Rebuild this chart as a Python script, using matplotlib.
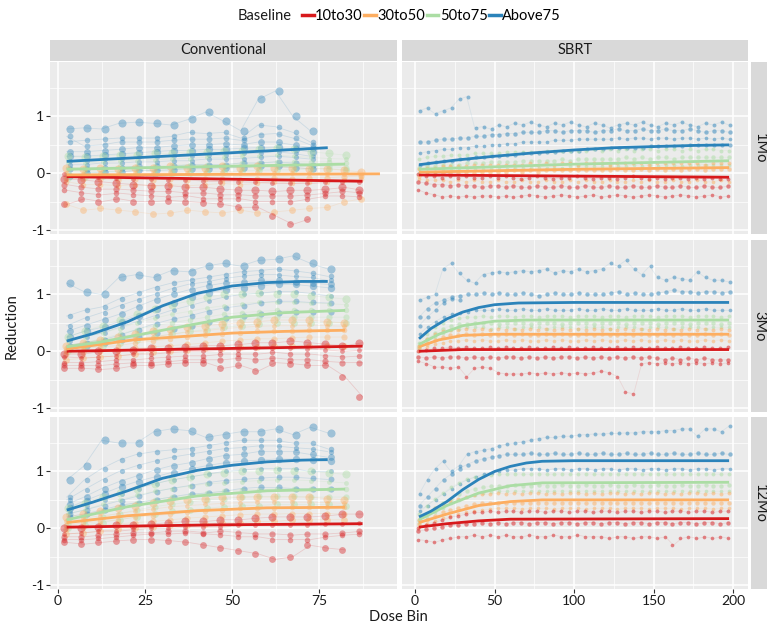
import numpy as np
import matplotlib.pyplot as plt
from matplotlib.lines import Line2D

plt.rcParams['font.family'] = ['Lato', 'DejaVu Sans']

groups = ["10to30", "30to50", "50to75", "Above75"]
colors = ["#d7191c", "#fdae61", "#abdda4", "#2b83ba"]
timepoints = ["1Mo", "3Mo", "12Mo"]
techniques = ["Conventional", "SBRT"]

conv_bins = [2.5, 7.5, 12.5, 17.5, 22.5, 27.5, 32.5, 37.5, 42.5, 47.5,
             52.5, 57.5, 62.5, 67.5, 72.5, 77.5, 82.5, 87.5]
sbrt_bins = [2.5, 7.5, 12.5, 17.5, 22.5, 27.5, 32.5, 37.5, 42.5, 47.5,
             52.5, 57.5, 62.5, 67.5, 72.5, 77.5, 82.5, 87.5, 92.5, 97.5,
             102.5, 107.5, 112.5, 117.5, 122.5, 127.5, 132.5, 137.5, 142.5, 147.5,
             152.5, 157.5, 162.5, 167.5, 172.5, 177.5, 182.5, 187.5, 192.5, 197.5]

# ---- fitted group curves (dose bin, reduction) ----
conv_1mo_fit_x = [[2.5, 45, 87.5], [2.5, 45, 92.5], [2.5, 45, 82.5], [2.5, 40, 77.5]]
conv_1mo_fit_y = [[-0.06, -0.1, -0.14], [-0.03, -0.02, -0.01], [0.07, 0.12, 0.16], [0.21, 0.33, 0.45]]
conv_3mo_fit_x = [[2.5, 30, 60, 87.5], [2.5, 21.6, 50, 65, 82.5], [2.5, 12, 30, 50, 65, 82.5],
                  [2.5, 10, 20, 30, 40, 50, 60, 70, 77.5]]
conv_3mo_fit_y = [[0.0, 0.03, 0.06, 0.09], [0.04, 0.2, 0.32, 0.35, 0.37], [0.08, 0.16, 0.37, 0.6, 0.68, 0.72],
                  [0.18, 0.31, 0.52, 0.8, 1.02, 1.15, 1.21, 1.23, 1.23]]
conv_12mo_fit_x = [[2.5, 45, 87.5], [2.5, 20, 40, 60, 82.5], [2.5, 20, 40, 60, 82.5],
                   [2.5, 10, 20, 30, 40, 50, 60, 70, 77.5]]
conv_12mo_fit_y = [[0.02, 0.06, 0.08], [0.1, 0.22, 0.31, 0.36, 0.37], [0.15, 0.38, 0.57, 0.66, 0.69],
                   [0.32, 0.46, 0.66, 0.88, 1.02, 1.11, 1.17, 1.2, 1.21]]
sbrt_1mo_fit_x = [[2.5, 100, 197.5], [2.5, 100, 197.5], [2.5, 100, 197.5],
                  [2.5, 25, 50, 75, 100, 125, 150, 175, 197.5]]
sbrt_1mo_fit_y = [[-0.03, -0.05, -0.07], [0.02, 0.07, 0.1], [0.07, 0.16, 0.22],
                  [0.15, 0.23, 0.3, 0.36, 0.41, 0.45, 0.47, 0.49, 0.5]]
sbrt_3mo_fit_x = [[2.5, 30, 197.5], [2.5, 15, 30, 50, 197.5], [2.5, 15, 30, 50, 70, 197.5],
                  [2.5, 10, 20, 30, 40, 50, 65, 100, 150, 197.5]]
sbrt_3mo_fit_y = [[0.0, 0.03, 0.03], [0.08, 0.2, 0.28, 0.3, 0.3], [0.12, 0.3, 0.45, 0.53, 0.55, 0.55],
                  [0.22, 0.4, 0.57, 0.69, 0.77, 0.82, 0.85, 0.86, 0.86, 0.86]]
sbrt_12mo_fit_x = [[2.5, 20, 40, 60, 197.5], [2.5, 20, 40, 60, 80, 197.5], [2.5, 20, 40, 60, 80, 197.5],
                   [2.5, 10, 20, 30, 40, 50, 60, 70, 80, 100, 150, 197.5]]
sbrt_12mo_fit_y = [[0.02, 0.08, 0.13, 0.16, 0.17], [0.1, 0.25, 0.4, 0.47, 0.5, 0.5], [0.15, 0.4, 0.62, 0.75, 0.8, 0.81],
                   [0.2, 0.3, 0.47, 0.68, 0.86, 1.0, 1.09, 1.15, 1.18, 1.19, 1.19, 1.19]]

# ---- patient-level reductions per dose bin (one list per patient) ----
conv_1mo_red = [
    [-0.1, -0.12, -0.15, -0.18, -0.2, -0.22, -0.22, -0.25, -0.25, -0.28, -0.3, -0.3, -0.32, -0.3, -0.3, -0.28, -0.25, -0.3],
    [-0.3, -0.35, -0.38, -0.35, -0.38, -0.4, -0.42, -0.4, -0.45, -0.45, -0.45, -0.5, -0.5, -0.5, -0.45, -0.4, -0.4, -0.42],
    [-0.55, -0.45, -0.5, -0.45, -0.5, -0.5, -0.48, -0.5, -0.52, -0.55, -0.6, -0.6, -0.75, -0.9, -0.8],
    [-0.02, -0.05, -0.06, -0.08, -0.1, -0.1, -0.12, -0.12, -0.14, -0.15, -0.15, -0.16, -0.18, -0.18, -0.18, -0.16, -0.15, -0.16],
    [-0.2, -0.25, -0.28, -0.28, -0.3, -0.32, -0.32, -0.35, -0.35, -0.38, -0.38, -0.4, -0.4, -0.4, -0.38, -0.35, -0.32, -0.35],
]
conv_1mo_orange = [
    [0.1, 0.08, 0.1, 0.08, 0.1, 0.1, 0.12, 0.1, 0.1, 0.12, 0.1, 0.12, 0.1, 0.1, 0.08, 0.08, 0.05, 0.02],
    [-0.15, -0.2, -0.2, -0.22, -0.2, -0.22, -0.2, -0.22, -0.2, -0.18, -0.2, -0.18, -0.15, -0.18, -0.15, -0.15, -0.12, -0.1],
    [-0.55, -0.65, -0.62, -0.65, -0.68, -0.72, -0.7, -0.65, -0.68, -0.7, -0.65, -0.7, -0.68, -0.65, -0.62, -0.6, -0.5, -0.45],
    [0.0, -0.02, 0.0, -0.02, 0.0, 0.0, 0.02, 0.0, 0.0, 0.02, 0.0, 0.02, 0.0, 0.0, 0.0, -0.02, -0.02, -0.04],
    [-0.08, -0.1, -0.1, -0.12, -0.1, -0.12, -0.1, -0.12, -0.1, -0.1, -0.12, -0.1, -0.08, -0.1, -0.08, -0.08, -0.06, -0.05],
]
conv_1mo_green = [
    [0.3, 0.28, 0.3, 0.32, 0.32, 0.35, 0.35, 0.38, 0.38, 0.4, 0.4, 0.42, 0.45, 0.42, 0.38, 0.35, 0.32],
    [0.1, 0.1, 0.1, 0.12, 0.12, 0.12, 0.15, 0.15, 0.15, 0.15, 0.18, 0.18, 0.2, 0.2, 0.2, 0.2, 0.18],
    [-0.08, -0.06, -0.05, -0.04, -0.03, -0.02, 0.0, 0.0, 0.02, 0.02, 0.04, 0.05, 0.06, 0.06, 0.08, 0.08, 0.06],
    [0.2, 0.18, 0.2, 0.22, 0.22, 0.24, 0.25, 0.26, 0.28, 0.28, 0.3, 0.3, 0.32, 0.3, 0.28, 0.26, 0.25],
    [0.0, 0.02, 0.02, 0.04, 0.05, 0.05, 0.06, 0.08, 0.08, 0.08, 0.1, 0.1, 0.12, 0.12, 0.12, 0.12, 0.1],
]
conv_1mo_blue = [
    [0.78, 0.8, 0.78, 0.88, 0.9, 0.88, 0.85, 0.95, 1.08, 0.92, 0.75, 1.3, 1.45, 1.0, 0.75],
    [0.55, 0.58, 0.6, 0.62, 0.62, 0.62, 0.65, 0.72, 0.7, 0.72, 0.62, 0.85, 0.82, 0.72, 0.55],
    [0.38, 0.38, 0.4, 0.42, 0.45, 0.45, 0.48, 0.5, 0.5, 0.52, 0.5, 0.55, 0.55, 0.5, 0.45],
    [0.22, 0.22, 0.25, 0.26, 0.28, 0.28, 0.3, 0.3, 0.32, 0.32, 0.35, 0.35, 0.38, 0.35, 0.3],
    [0.08, 0.08, 0.1, 0.1, 0.12, 0.12, 0.12, 0.15, 0.15, 0.15, 0.18, 0.18, 0.2, 0.18, 0.15],
    [0.3, 0.3, 0.32, 0.34, 0.36, 0.38, 0.4, 0.4, 0.42, 0.42, 0.44, 0.45, 0.46, 0.42, 0.38],
    [0.15, 0.15, 0.18, 0.18, 0.2, 0.2, 0.22, 0.22, 0.25, 0.25, 0.26, 0.28, 0.3, 0.28, 0.25],
    [0.65, 0.48, 0.5, 0.55, 0.55, 0.55, 0.58, 0.6, 0.6, 0.62, 0.58, 0.68, 0.7, 0.62, 0.5],
    [-0.05, 0.0, 0.02, 0.02, 0.05, 0.05, 0.06, 0.08, 0.08, 0.1, 0.1, 0.12, 0.12, 0.1, 0.08],
]
conv_3mo_red = [
    [-0.05, -0.05, 0.0, 0.0, 0.02, 0.05, 0.05, 0.08, 0.1, 0.1, 0.12, 0.15, 0.15, 0.18, 0.15, 0.12, 0.1, 0.15],
    [-0.2, -0.2, -0.18, -0.15, -0.15, -0.12, -0.1, -0.08, -0.08, -0.05, -0.05, -0.05, -0.02, -0.05, -0.05, -0.08, -0.1, -0.08],
    [-0.3, -0.3, -0.32, -0.3, -0.25, -0.25, -0.22, -0.2, -0.2, -0.3, -0.25, -0.35, -0.2, -0.22, -0.25, -0.25, -0.45, -0.8],
    [-0.1, -0.12, -0.1, -0.08, -0.05, -0.05, -0.02, 0.0, 0.0, 0.02, 0.02, 0.05, 0.05, 0.05, 0.04, 0.02, 0.0, 0.02],
    [-0.25, -0.25, -0.25, -0.22, -0.2, -0.2, -0.18, -0.15, -0.15, -0.15, -0.12, -0.15, -0.12, -0.15, -0.15, -0.18, -0.2, -0.2],
]
conv_3mo_orange = [
    [0.1, 0.15, 0.2, 0.25, 0.3, 0.35, 0.4, 0.42, 0.45, 0.48, 0.5, 0.52, 0.55, 0.55, 0.55, 0.52, 0.5],
    [0.0, 0.05, 0.08, 0.1, 0.15, 0.18, 0.22, 0.25, 0.28, 0.3, 0.32, 0.35, 0.35, 0.35, 0.38, 0.38, 0.38],
    [-0.15, -0.12, -0.1, -0.08, -0.05, -0.02, 0.0, 0.02, 0.05, 0.05, 0.08, 0.08, 0.1, 0.1, 0.1, 0.1, 0.1],
    [0.05, 0.1, 0.12, 0.18, 0.22, 0.26, 0.3, 0.34, 0.36, 0.4, 0.42, 0.44, 0.45, 0.45, 0.46, 0.45, 0.44],
    [-0.05, -0.02, 0.0, 0.02, 0.05, 0.08, 0.1, 0.12, 0.15, 0.18, 0.2, 0.22, 0.22, 0.24, 0.25, 0.25, 0.25],
]
conv_3mo_green = [
    [0.25, 0.35, 0.45, 0.55, 0.65, 0.75, 0.82, 0.88, 0.95, 1.0, 1.0, 1.02, 1.0, 1.0, 0.98, 0.95, 0.92],
    [0.1, 0.15, 0.22, 0.3, 0.38, 0.45, 0.5, 0.55, 0.6, 0.65, 0.68, 0.7, 0.72, 0.72, 0.72, 0.72, 0.72],
    [0.0, 0.05, 0.1, 0.15, 0.2, 0.25, 0.3, 0.35, 0.38, 0.42, 0.45, 0.48, 0.5, 0.5, 0.5, 0.5, 0.5],
    [0.18, 0.25, 0.32, 0.4, 0.5, 0.58, 0.65, 0.7, 0.76, 0.8, 0.84, 0.86, 0.86, 0.86, 0.85, 0.84, 0.82],
    [0.05, 0.1, 0.15, 0.22, 0.28, 0.35, 0.4, 0.45, 0.48, 0.52, 0.55, 0.58, 0.6, 0.6, 0.6, 0.6, 0.6],
]
conv_3mo_blue = [
    [1.2, 1.05, 1.0, 1.3, 1.35, 1.3, 1.42, 1.4, 1.5, 1.55, 1.5, 1.6, 1.62, 1.68, 1.55, 1.45],
    [0.62, 0.72, 0.78, 0.92, 1.02, 1.12, 1.2, 1.25, 1.3, 1.35, 1.4, 1.42, 1.45, 1.42, 1.38, 1.32],
    [0.35, 0.45, 0.55, 0.65, 0.78, 0.9, 1.0, 1.08, 1.15, 1.2, 1.22, 1.25, 1.25, 1.22, 1.2, 1.18],
    [0.18, 0.25, 0.32, 0.42, 0.52, 0.62, 0.72, 0.8, 0.88, 0.95, 1.0, 1.02, 1.05, 1.05, 1.02, 0.98],
    [0.05, 0.1, 0.15, 0.2, 0.25, 0.32, 0.4, 0.45, 0.52, 0.58, 0.62, 0.65, 0.68, 0.7, 0.7, 0.7],
    [0.25, 0.35, 0.42, 0.52, 0.62, 0.75, 0.85, 0.95, 1.02, 1.08, 1.12, 1.15, 1.18, 1.18, 1.15, 1.12],
    [0.45, 0.58, 0.68, 0.8, 0.9, 1.0, 1.1, 1.18, 1.22, 1.28, 1.32, 1.35, 1.35, 1.32, 1.3, 1.25],
    [0.1, 0.15, 0.2, 0.28, 0.38, 0.48, 0.56, 0.62, 0.7, 0.76, 0.8, 0.85, 0.88, 0.88, 0.86, 0.85],
]
conv_12mo_red = [
    [0.0, 0.0, 0.02, 0.05, 0.05, 0.08, 0.1, 0.12, 0.12, 0.15, 0.15, 0.18, 0.2, 0.2, 0.2, 0.22, 0.25, 0.25],
    [-0.2, -0.2, -0.18, -0.15, -0.12, -0.1, -0.1, -0.08, -0.1, -0.12, -0.15, -0.15, -0.2, -0.2, -0.2, -0.15, -0.12, -0.1],
    [-0.25, -0.28, -0.25, -0.22, -0.2, -0.2, -0.22, -0.25, -0.3, -0.35, -0.4, -0.45, -0.55, -0.5, -0.3, -0.35, -0.38],
    [-0.1, -0.08, -0.05, -0.05, -0.02, 0.0, 0.0, 0.02, 0.02, 0.02, 0.05, 0.05, 0.05, 0.05, 0.05, 0.08, 0.08, 0.1],
    [-0.15, -0.15, -0.12, -0.1, -0.08, -0.08, -0.05, -0.05, -0.08, -0.05, -0.08, -0.1, -0.1, -0.12, -0.1, -0.1, -0.08, -0.05],
]
conv_12mo_orange = [
    [0.2, 0.25, 0.3, 0.35, 0.4, 0.45, 0.48, 0.5, 0.52, 0.55, 0.55, 0.55, 0.55, 0.55, 0.55, 0.52, 0.5],
    [0.05, 0.1, 0.12, 0.15, 0.2, 0.22, 0.25, 0.28, 0.3, 0.32, 0.35, 0.35, 0.35, 0.38, 0.38, 0.38, 0.38],
    [-0.1, -0.08, -0.05, -0.02, 0.0, 0.02, 0.05, 0.05, 0.08, 0.1, 0.1, 0.12, 0.12, 0.15, 0.15, 0.15, 0.15],
    [0.12, 0.18, 0.22, 0.26, 0.3, 0.34, 0.38, 0.4, 0.42, 0.44, 0.45, 0.46, 0.46, 0.46, 0.46, 0.45, 0.44],
    [-0.02, 0.02, 0.05, 0.08, 0.1, 0.12, 0.15, 0.18, 0.2, 0.22, 0.24, 0.25, 0.25, 0.26, 0.26, 0.26, 0.25],
]
conv_12mo_green = [
    [0.35, 0.45, 0.55, 0.62, 0.7, 0.78, 0.85, 0.9, 0.95, 0.98, 1.0, 1.0, 1.02, 1.0, 1.0, 0.98, 0.95],
    [0.15, 0.22, 0.3, 0.38, 0.45, 0.5, 0.55, 0.58, 0.62, 0.65, 0.68, 0.68, 0.7, 0.7, 0.7, 0.7, 0.7],
    [0.0, 0.05, 0.1, 0.15, 0.2, 0.25, 0.3, 0.32, 0.35, 0.38, 0.4, 0.4, 0.42, 0.42, 0.42, 0.42, 0.4],
    [0.25, 0.32, 0.42, 0.5, 0.58, 0.65, 0.7, 0.74, 0.78, 0.8, 0.82, 0.84, 0.85, 0.85, 0.84, 0.82, 0.8],
    [0.08, 0.14, 0.2, 0.26, 0.32, 0.38, 0.42, 0.46, 0.5, 0.52, 0.55, 0.56, 0.56, 0.56, 0.55, 0.55, 0.55],
]
conv_12mo_blue = [
    [0.85, 1.1, 1.55, 1.5, 1.5, 1.7, 1.75, 1.72, 1.6, 1.65, 1.7, 1.7, 1.75, 1.65, 1.78, 1.68],
    [0.55, 0.85, 1.05, 1.2, 1.3, 1.35, 1.38, 1.4, 1.45, 1.5, 1.55, 1.55, 1.55, 1.5, 1.5, 1.4],
    [0.42, 0.55, 0.7, 0.82, 0.92, 1.02, 1.1, 1.15, 1.22, 1.28, 1.3, 1.35, 1.35, 1.35, 1.3, 1.25],
    [0.3, 0.4, 0.5, 0.6, 0.7, 0.78, 0.85, 0.9, 0.95, 1.0, 1.02, 1.05, 1.05, 1.05, 1.0, 1.0],
    [0.2, 0.25, 0.32, 0.4, 0.45, 0.5, 0.55, 0.6, 0.62, 0.65, 0.7, 0.72, 0.72, 0.7, 0.7, 0.7],
    [0.35, 0.48, 0.6, 0.72, 0.82, 0.9, 0.98, 1.04, 1.1, 1.15, 1.18, 1.2, 1.22, 1.22, 1.2, 1.18],
    [0.5, 0.68, 0.85, 1.0, 1.1, 1.18, 1.25, 1.3, 1.35, 1.4, 1.42, 1.45, 1.45, 1.42, 1.4, 1.35],
    [0.25, 0.32, 0.4, 0.48, 0.56, 0.64, 0.7, 0.75, 0.8, 0.84, 0.86, 0.88, 0.9, 0.9, 0.88, 0.86],
]

sbrt_1mo_red = [
    [-0.02, -0.05, -0.05, -0.08, -0.05, -0.08, -0.05, -0.08, -0.08, -0.05,
     -0.08, -0.05, -0.08, -0.1, -0.08, -0.05, -0.08, -0.1, -0.08, -0.08,
     -0.05, -0.08, -0.1, -0.08, -0.08, -0.1, -0.08, -0.05, -0.08, -0.1,
     -0.08, -0.1, -0.08, -0.08, -0.1, -0.08, -0.1, -0.08, -0.1, -0.1],
    [-0.15, -0.18, -0.2, -0.2, -0.22, -0.2, -0.22, -0.22, -0.25, -0.22,
     -0.22, -0.25, -0.22, -0.25, -0.25, -0.22, -0.25, -0.25, -0.22, -0.25,
     -0.25, -0.22, -0.25, -0.25, -0.22, -0.25, -0.25, -0.22, -0.25, -0.25,
     -0.22, -0.25, -0.25, -0.22, -0.25, -0.25, -0.22, -0.25, -0.25, -0.22],
    [-0.3, -0.35, -0.38, -0.42, -0.4, -0.42, -0.4, -0.42, -0.4, -0.4,
     -0.42, -0.4, -0.42, -0.4, -0.38, -0.4, -0.42, -0.4, -0.38, -0.4,
     -0.42, -0.4, -0.38, -0.42, -0.4, -0.38, -0.4, -0.42, -0.4, -0.38,
     -0.4, -0.42, -0.4, -0.38, -0.4, -0.42, -0.4, -0.38, -0.42, -0.4],
]
sbrt_1mo_orange = [
    [0.08, 0.1, 0.1, 0.12, 0.12, 0.12, 0.12, 0.15, 0.15, 0.15,
     0.15, 0.15, 0.15, 0.15, 0.18, 0.15, 0.18, 0.15, 0.18, 0.18,
     0.15, 0.18, 0.18, 0.18, 0.15, 0.18, 0.18, 0.18, 0.18, 0.15,
     0.18, 0.18, 0.18, 0.18, 0.18, 0.18, 0.15, 0.18, 0.18, 0.18],
    [-0.05, -0.02, -0.02, 0.0, 0.0, 0.0, 0.02, 0.0, 0.02, 0.02,
     0.02, 0.02, 0.05, 0.02, 0.05, 0.02, 0.05, 0.05, 0.05, 0.05,
     0.05, 0.05, 0.05, 0.05, 0.05, 0.08, 0.05, 0.05, 0.08, 0.05,
     0.08, 0.05, 0.08, 0.05, 0.08, 0.08, 0.05, 0.08, 0.08, 0.08],
    [-0.1, -0.12, -0.12, -0.12, -0.15, -0.12, -0.15, -0.12, -0.15, -0.15,
     -0.12, -0.15, -0.15, -0.12, -0.15, -0.15, -0.12, -0.15, -0.15, -0.12,
     -0.15, -0.12, -0.15, -0.15, -0.12, -0.15, -0.15, -0.12, -0.15, -0.12,
     -0.15, -0.15, -0.12, -0.15, -0.15, -0.12, -0.15, -0.15, -0.12, -0.15],
]
sbrt_1mo_green = [
    [0.25, 0.28, 0.3, 0.3, 0.32, 0.32, 0.32, 0.35, 0.35, 0.35,
     0.35, 0.38, 0.38, 0.38, 0.38, 0.38, 0.4, 0.4, 0.4, 0.4,
     0.4, 0.4, 0.42, 0.4, 0.42, 0.4, 0.42, 0.4, 0.42, 0.42,
     0.4, 0.42, 0.42, 0.4, 0.42, 0.4, 0.42, 0.42, 0.4, 0.4],
    [0.1, 0.12, 0.12, 0.15, 0.15, 0.15, 0.18, 0.18, 0.18, 0.2,
     0.2, 0.2, 0.2, 0.22, 0.22, 0.22, 0.22, 0.22, 0.25, 0.22,
     0.25, 0.25, 0.25, 0.25, 0.25, 0.25, 0.28, 0.25, 0.28, 0.25,
     0.28, 0.28, 0.25, 0.28, 0.28, 0.28, 0.28, 0.28, 0.28, 0.28],
    [0.0, 0.02, 0.02, 0.05, 0.05, 0.05, 0.05, 0.08, 0.08, 0.08,
     0.08, 0.08, 0.1, 0.1, 0.1, 0.1, 0.1, 0.1, 0.1, 0.12,
     0.12, 0.12, 0.12, 0.12, 0.12, 0.12, 0.12, 0.15, 0.12, 0.15,
     0.12, 0.15, 0.15, 0.12, 0.15, 0.15, 0.15, 0.15, 0.15, 0.15],
]
sbrt_1mo_blue = [
    [1.1, 1.15, 1.05, 1.1, 1.15, 1.3, 1.35, 0.8, 0.82, 0.78,
     0.85, 0.82, 0.88, 0.85, 0.9, 0.85, 0.82, 0.88, 0.85, 0.9,
     0.85, 0.82, 0.88, 0.85, 0.8, 0.85, 0.88, 0.85, 0.9, 0.85,
     0.82, 0.88, 0.85, 0.9, 0.85, 0.82, 0.88, 0.85, 0.9, 0.85],
    [0.55, 0.55, 0.58, 0.6, 0.6, 0.62, 0.62, 0.65, 0.65, 0.68,
     0.68, 0.7, 0.7, 0.72, 0.72, 0.72, 0.75, 0.75, 0.72, 0.75,
     0.75, 0.75, 0.72, 0.75, 0.75, 0.78, 0.75, 0.75, 0.78, 0.75,
     0.75, 0.78, 0.75, 0.75, 0.78, 0.75, 0.72, 0.75, 0.75, 0.72],
    [0.35, 0.38, 0.4, 0.42, 0.42, 0.45, 0.45, 0.48, 0.48, 0.5,
     0.5, 0.52, 0.52, 0.55, 0.55, 0.55, 0.55, 0.58, 0.58, 0.58,
     0.6, 0.6, 0.6, 0.6, 0.6, 0.62, 0.6, 0.62, 0.62, 0.6,
     0.62, 0.62, 0.6, 0.62, 0.62, 0.6, 0.62, 0.6, 0.62, 0.6],
    [0.15, 0.18, 0.2, 0.22, 0.22, 0.25, 0.25, 0.28, 0.28, 0.3,
     0.3, 0.32, 0.32, 0.35, 0.35, 0.35, 0.38, 0.38, 0.4, 0.4,
     0.4, 0.42, 0.42, 0.42, 0.45, 0.45, 0.45, 0.45, 0.45, 0.48,
     0.48, 0.48, 0.48, 0.48, 0.5, 0.5, 0.5, 0.5, 0.5, 0.5],
]
sbrt_3mo_red = [
    [0.0, 0.02, 0.05, 0.05, 0.08, 0.05, 0.08, 0.05, 0.05, 0.08,
     0.05, 0.08, 0.05, 0.05, 0.08, 0.05, 0.05, 0.08, 0.05, 0.08,
     0.05, 0.05, 0.08, 0.05, 0.05, 0.08, 0.05, 0.08, 0.05, 0.05,
     0.08, 0.05, 0.05, 0.08, 0.05, 0.05, 0.08, 0.05, 0.05, 0.08],
    [-0.1, -0.12, -0.1, -0.12, -0.1, -0.1, -0.12, -0.1, -0.12, -0.1,
     -0.12, -0.1, -0.1, -0.12, -0.1, -0.12, -0.1, -0.12, -0.1, -0.1,
     -0.12, -0.1, -0.12, -0.1, -0.12, -0.1, -0.12, -0.1, -0.12, -0.1,
     -0.12, -0.15, -0.12, -0.15, -0.12, -0.15, -0.12, -0.15, -0.15, -0.15],
    [-0.18, -0.22, -0.28, -0.28, -0.3, -0.28, -0.45, -0.3, -0.28, -0.3,
     -0.38, -0.4, -0.4, -0.4, -0.38, -0.4, -0.38, -0.4, -0.38, -0.4,
     -0.38, -0.4, -0.38, -0.35, -0.38, -0.45, -0.72, -0.75, -0.22, -0.2,
     -0.22, -0.2, -0.22, -0.2, -0.22, -0.2, -0.22, -0.2, -0.22, -0.2],
]
sbrt_3mo_orange = [
    [0.1, 0.22, 0.3, 0.35, 0.38, 0.38, 0.4, 0.38, 0.4, 0.38,
     0.4, 0.38, 0.4, 0.38, 0.4, 0.38, 0.4, 0.38, 0.4, 0.38,
     0.4, 0.38, 0.4, 0.38, 0.4, 0.38, 0.4, 0.38, 0.4, 0.38,
     0.4, 0.38, 0.4, 0.38, 0.4, 0.38, 0.4, 0.38, 0.4, 0.38],
    [0.05, 0.12, 0.2, 0.25, 0.28, 0.28, 0.3, 0.28, 0.3, 0.28,
     0.28, 0.3, 0.28, 0.3, 0.28, 0.28, 0.3, 0.28, 0.3, 0.28,
     0.28, 0.3, 0.28, 0.3, 0.28, 0.28, 0.3, 0.28, 0.3, 0.28,
     0.28, 0.3, 0.28, 0.3, 0.28, 0.28, 0.3, 0.28, 0.3, 0.28],
    [0.0, 0.08, 0.12, 0.15, 0.18, 0.18, 0.2, 0.18, 0.2, 0.18,
     0.18, 0.2, 0.18, 0.2, 0.18, 0.18, 0.2, 0.18, 0.2, 0.18,
     0.18, 0.2, 0.18, 0.2, 0.18, 0.18, 0.2, 0.18, 0.2, 0.18,
     0.18, 0.2, 0.18, 0.2, 0.18, 0.18, 0.2, 0.18, 0.2, 0.18],
]
sbrt_3mo_green = [
    [0.15, 0.3, 0.42, 0.5, 0.55, 0.58, 0.6, 0.6, 0.62, 0.6,
     0.62, 0.62, 0.6, 0.62, 0.62, 0.6, 0.62, 0.62, 0.62, 0.6,
     0.62, 0.62, 0.62, 0.6, 0.62, 0.62, 0.6, 0.62, 0.62, 0.62,
     0.6, 0.62, 0.62, 0.62, 0.6, 0.62, 0.62, 0.62, 0.6, 0.62],
    [0.1, 0.22, 0.32, 0.4, 0.45, 0.48, 0.48, 0.5, 0.5, 0.5,
     0.48, 0.5, 0.5, 0.5, 0.48, 0.5, 0.5, 0.5, 0.48, 0.5,
     0.5, 0.5, 0.48, 0.5, 0.5, 0.5, 0.48, 0.5, 0.5, 0.5,
     0.48, 0.5, 0.5, 0.5, 0.48, 0.5, 0.5, 0.5, 0.48, 0.5],
    [0.05, 0.15, 0.25, 0.32, 0.38, 0.4, 0.42, 0.42, 0.42, 0.4,
     0.42, 0.42, 0.4, 0.42, 0.42, 0.42, 0.4, 0.42, 0.42, 0.42,
     0.4, 0.42, 0.42, 0.42, 0.4, 0.42, 0.42, 0.42, 0.4, 0.42,
     0.42, 0.42, 0.4, 0.42, 0.42, 0.42, 0.4, 0.42, 0.42, 0.42],
]
sbrt_3mo_blue = [
    [0.9, 0.95, 1.0, 1.45, 1.55, 1.38, 1.25, 1.2, 1.35, 1.38,
     1.4, 1.38, 1.4, 1.42, 1.4, 1.42, 1.45, 1.38, 1.42, 1.4,
     1.45, 1.4, 1.42, 1.45, 1.55, 1.5, 1.6, 1.45, 1.35, 1.5,
     1.3, 1.25, 1.3, 1.28, 1.25, 1.4, 1.3, 1.25, 1.25, 1.22],
    [0.6, 0.75, 0.85, 0.9, 0.95, 0.98, 1.0, 1.0, 1.02, 1.0,
     1.02, 1.0, 1.0, 1.02, 1.0, 0.98, 1.0, 1.02, 1.0, 1.0,
     1.02, 1.0, 1.0, 1.0, 1.02, 1.05, 1.0, 1.02, 1.0, 1.0,
     1.02, 1.05, 1.08, 1.05, 1.05, 1.02, 1.05, 1.05, 1.02, 1.05],
    [0.3, 0.42, 0.52, 0.6, 0.65, 0.68, 0.7, 0.72, 0.72, 0.72,
     0.75, 0.72, 0.72, 0.75, 0.72, 0.72, 0.75, 0.72, 0.72, 0.72,
     0.75, 0.72, 0.72, 0.75, 0.72, 0.72, 0.75, 0.72, 0.72, 0.72,
     0.75, 0.72, 0.72, 0.75, 0.72, 0.72, 0.75, 0.72, 0.72, 0.72],
    [0.45, 0.6, 0.72, 0.85, 0.92, 0.9],
]
sbrt_12mo_red = [
    [0.0, 0.05, 0.1, 0.15, 0.2, 0.22, 0.25, 0.28, 0.28, 0.3,
     0.28, 0.3, 0.3, 0.28, 0.3, 0.3, 0.28, 0.3, 0.3, 0.28,
     0.3, 0.3, 0.28, 0.3, 0.3, 0.28, 0.3, 0.3, 0.28, 0.3,
     0.3, 0.28, 0.3, 0.3, 0.28, 0.3, 0.3, 0.28, 0.3, 0.3],
    [-0.05, -0.02, 0.0, 0.02, 0.05, 0.05, 0.08, 0.08, 0.1, 0.08,
     0.1, 0.08, 0.1, 0.1, 0.08, 0.1, 0.1, 0.08, 0.1, 0.1,
     0.08, 0.1, 0.1, 0.08, 0.1, 0.1, 0.08, 0.1, 0.1, 0.08,
     0.1, 0.1, 0.08, 0.1, 0.1, 0.08, 0.1, 0.1, 0.08, 0.1],
    [-0.2, -0.22, -0.25, -0.2, -0.18, -0.15, -0.15, -0.12, -0.15, -0.12,
     -0.15, -0.12, -0.15, -0.15, -0.12, -0.15, -0.15, -0.12, -0.15, -0.15,
     -0.12, -0.15, -0.15, -0.15, -0.18, -0.15, -0.15, -0.18, -0.15, -0.15,
     -0.18, -0.15, -0.3, -0.18, -0.15, -0.18, -0.15, -0.18, -0.15, -0.18],
]
sbrt_12mo_orange = [
    [0.15, 0.25, 0.35, 0.42, 0.48, 0.52, 0.55, 0.58, 0.6, 0.6,
     0.62, 0.6, 0.62, 0.6, 0.62, 0.62, 0.6, 0.62, 0.6, 0.62,
     0.62, 0.6, 0.62, 0.6, 0.62, 0.62, 0.6, 0.62, 0.6, 0.62,
     0.62, 0.6, 0.62, 0.6, 0.62, 0.62, 0.6, 0.62, 0.6, 0.62],
    [0.08, 0.15, 0.22, 0.28, 0.32, 0.36, 0.4, 0.42, 0.44, 0.45,
     0.45, 0.45, 0.45, 0.44, 0.45, 0.45, 0.45, 0.44, 0.45, 0.45,
     0.45, 0.44, 0.45, 0.45, 0.45, 0.44, 0.45, 0.45, 0.45, 0.44,
     0.45, 0.45, 0.45, 0.44, 0.45, 0.45, 0.45, 0.44, 0.45, 0.45],
    [0.02, 0.08, 0.12, 0.18, 0.22, 0.25, 0.28, 0.3, 0.32, 0.34,
     0.35, 0.35, 0.35, 0.34, 0.35, 0.35, 0.35, 0.34, 0.35, 0.35,
     0.35, 0.34, 0.35, 0.35, 0.35, 0.34, 0.35, 0.35, 0.35, 0.34,
     0.35, 0.35, 0.35, 0.34, 0.35, 0.35, 0.35, 0.34, 0.35, 0.35],
]
sbrt_12mo_green = [
    [0.25, 0.4, 0.52, 0.62, 0.72, 0.8, 0.86, 0.9, 0.92, 0.94,
     0.95, 0.95, 0.96, 0.95, 0.95, 0.96, 0.95, 0.95, 0.96, 0.95,
     0.95, 0.96, 0.95, 0.95, 0.96, 0.95, 0.95, 0.96, 0.95, 0.95,
     0.96, 0.95, 0.95, 0.96, 0.95, 0.95, 0.96, 0.95, 0.95, 0.96],
    [0.15, 0.25, 0.35, 0.45, 0.52, 0.6, 0.65, 0.7, 0.72, 0.74,
     0.75, 0.75, 0.76, 0.75, 0.75, 0.76, 0.75, 0.75, 0.76, 0.75,
     0.75, 0.76, 0.75, 0.75, 0.76, 0.75, 0.75, 0.76, 0.75, 0.75,
     0.76, 0.75, 0.75, 0.76, 0.75, 0.75, 0.76, 0.75, 0.75, 0.76],
    [0.1, 0.18, 0.28, 0.36, 0.44, 0.5, 0.55, 0.58, 0.62, 0.64,
     0.65, 0.65, 0.66, 0.65, 0.65, 0.66, 0.65, 0.65, 0.66, 0.65,
     0.65, 0.66, 0.65, 0.65, 0.66, 0.65, 0.65, 0.66, 0.65, 0.65,
     0.66, 0.65, 0.65, 0.66, 0.65, 0.65, 0.66, 0.65, 0.65, 0.66],
]
sbrt_12mo_blue = [
    [0.6, 0.85, 1.05, 1.18, 1.0, 1.1, 1.3, 1.35, 1.37, 1.4,
     1.45, 1.48, 1.5, 1.52, 1.55, 1.58, 1.6, 1.6, 1.62, 1.62,
     1.64, 1.65, 1.66, 1.66, 1.67, 1.67, 1.68, 1.68, 1.7, 1.7,
     1.7, 1.72, 1.72, 1.75, 1.75, 1.62, 1.75, 1.75, 1.7, 1.8],
    [0.4, 0.55, 0.7, 0.85, 0.95, 1.05, 1.12, 1.18, 1.22, 1.25,
     1.28, 1.3, 1.3, 1.3, 1.32, 1.3, 1.3, 1.32, 1.3, 1.3,
     1.32, 1.3, 1.3, 1.32, 1.3, 1.3, 1.32, 1.3, 1.3, 1.32,
     1.3, 1.3, 1.32, 1.3, 1.3, 1.32, 1.3, 1.3, 1.32, 1.3],
    [0.3, 0.4, 0.5, 0.6, 0.7, 0.78, 0.85, 0.9, 0.95, 0.98,
     1.0, 1.02, 1.02, 1.05, 1.05, 1.05, 1.02, 1.05, 1.05, 1.02,
     1.05, 1.05, 1.02, 1.05, 1.05, 1.02, 1.05, 1.05, 1.02, 1.05,
     1.05, 1.02, 1.05, 1.05, 1.02, 1.05, 1.05, 1.02, 1.05, 1.05],
]

points = {
    ("Conventional", "1Mo"): [conv_1mo_red, conv_1mo_orange, conv_1mo_green, conv_1mo_blue],
    ("Conventional", "3Mo"): [conv_3mo_red, conv_3mo_orange, conv_3mo_green, conv_3mo_blue],
    ("Conventional", "12Mo"): [conv_12mo_red, conv_12mo_orange, conv_12mo_green, conv_12mo_blue],
    ("SBRT", "1Mo"): [sbrt_1mo_red, sbrt_1mo_orange, sbrt_1mo_green, sbrt_1mo_blue],
    ("SBRT", "3Mo"): [sbrt_3mo_red, sbrt_3mo_orange, sbrt_3mo_green, sbrt_3mo_blue],
    ("SBRT", "12Mo"): [sbrt_12mo_red, sbrt_12mo_orange, sbrt_12mo_green, sbrt_12mo_blue],
}
fits = {
    ("Conventional", "1Mo"): (conv_1mo_fit_x, conv_1mo_fit_y),
    ("Conventional", "3Mo"): (conv_3mo_fit_x, conv_3mo_fit_y),
    ("Conventional", "12Mo"): (conv_12mo_fit_x, conv_12mo_fit_y),
    ("SBRT", "1Mo"): (sbrt_1mo_fit_x, sbrt_1mo_fit_y),
    ("SBRT", "3Mo"): (sbrt_3mo_fit_x, sbrt_3mo_fit_y),
    ("SBRT", "12Mo"): (sbrt_12mo_fit_x, sbrt_12mo_fit_y),
}

W, H = 767, 628
fig = plt.figure(figsize=(W / 100, H / 100), dpi=100)


def px_axes(x0, y0, x1, y1):
    return fig.add_axes([x0 / W, 1 - y1 / H, (x1 - x0) / W, (y1 - y0) / H])


col_px = [(50, 397), (402, 748)]
row_px = [(62, 234), (240, 412), (417, 589)]
xlims = [(-2.3, 97.4), (-8.2, 209.4)]
xmajor = [[0, 25, 50, 75], [0, 50, 100, 150, 200]]
xminor = [[12.5, 37.5, 62.5, 87.5], [25, 75, 125, 175]]
dodge = [[-0.9, -0.3, 0.3, 0.9], [-0.6, -0.2, 0.2, 0.6]]
conv_sizes = [34, 16, 24, 12, 20, 28, 14, 18, 22]
sbrt_sizes = [8, 10, 7, 9]
line_alpha = [0.16, 0.1]
panel_bg = "#EBEBEB"
strip_bg = "#D9D9D9"
txt = "#1A1A1A"

for ri, tp in enumerate(timepoints):
    for ci, tech in enumerate(techniques):
        x0, x1 = col_px[ci]
        y0, y1 = row_px[ri]
        ax = px_axes(x0, y0, x1, y1)
        ax.set_facecolor(panel_bg)
        for s in ax.spines.values():
            s.set_visible(False)
        ax.set_xlim(*xlims[ci])
        ax.set_ylim(-1.07, 1.96)
        ax.set_xticks(xmajor[ci])
        ax.set_xticks(xminor[ci], minor=True)
        ax.set_yticks([-1, 0, 1])
        ax.set_yticks([-0.5, 0.5, 1.5], minor=True)
        ax.grid(which="major", color="white", lw=1.1)
        ax.grid(which="minor", color="white", lw=0.5)
        ax.set_axisbelow(True)
        ax.tick_params(which="minor", length=0)
        ax.tick_params(which="major", length=3, color="#333333", labelsize=10,
                       labelcolor=txt, pad=1)
        if ci == 0:
            ax.set_yticklabels(["-1", "0", "1"])
        else:
            ax.tick_params(axis="y", length=0, labelleft=False)
        if ri < 2:
            ax.tick_params(axis="x", length=0, labelbottom=False)

        bins = conv_bins if ci == 0 else sbrt_bins
        sizes = conv_sizes if ci == 0 else sbrt_sizes
        alpha = 0.4 if ci == 0 else 0.5
        for gi in [3, 2, 1, 0]:
            for pi, row in enumerate(points[(tech, tp)][gi]):
                xs = np.array(bins[:len(row)])
                ax.plot(xs, row, color=colors[gi], lw=0.6, alpha=line_alpha[ci], zorder=2)
                ax.scatter(xs + dodge[ci][gi], row, s=sizes[pi % len(sizes)],
                           color=colors[gi], alpha=alpha, linewidths=0, zorder=3)
        fx, fy = fits[(tech, tp)]
        for gi in range(4):
            ax.plot(fx[gi], fy[gi], color=colors[gi], lw=2.0, zorder=5,
                    solid_capstyle="butt")

        if ri == 0:
            sax = px_axes(x0, 40, x1, 61)
            sax.set_facecolor(strip_bg)
            sax.set_xticks([])
            sax.set_yticks([])
            for s in sax.spines.values():
                s.set_visible(False)
            sax.text(0.5, 0.5, tech, ha="center", va="center", fontsize=10.5, color=txt)
    rax = px_axes(751, row_px[ri][0], 772, row_px[ri][1])
    rax.set_facecolor(strip_bg)
    rax.set_xticks([])
    rax.set_yticks([])
    for s in rax.spines.values():
        s.set_visible(False)
    rax.text(0.42, 0.5, tp, ha="center", va="center", rotation=-90, fontsize=10.5,
             color=txt)

fig.text(12 / W, 1 - 326 / H, "Reduction", rotation=90, ha="center", va="center",
         fontsize=10.5, color=txt)
fig.text(398 / W, 1 - 617 / H, "Dose Bin", ha="center", va="center",
         fontsize=10.5, color=txt)

fig.text(238 / W, 1 - 16 / H, "Baseline", ha="left", va="center", fontsize=10.5, color=txt)
handles = [Line2D([], [], color=c, lw=2.5) for c in colors]
fig.legend(handles, groups, loc="center left", bbox_to_anchor=(302 / W, 1 - 16 / H),
           ncol=4, frameon=False, handlelength=0.8, handletextpad=0.1,
           columnspacing=0.1, fontsize=10.5, borderaxespad=0, borderpad=0)

fig.savefig("out.png", dpi=100)
